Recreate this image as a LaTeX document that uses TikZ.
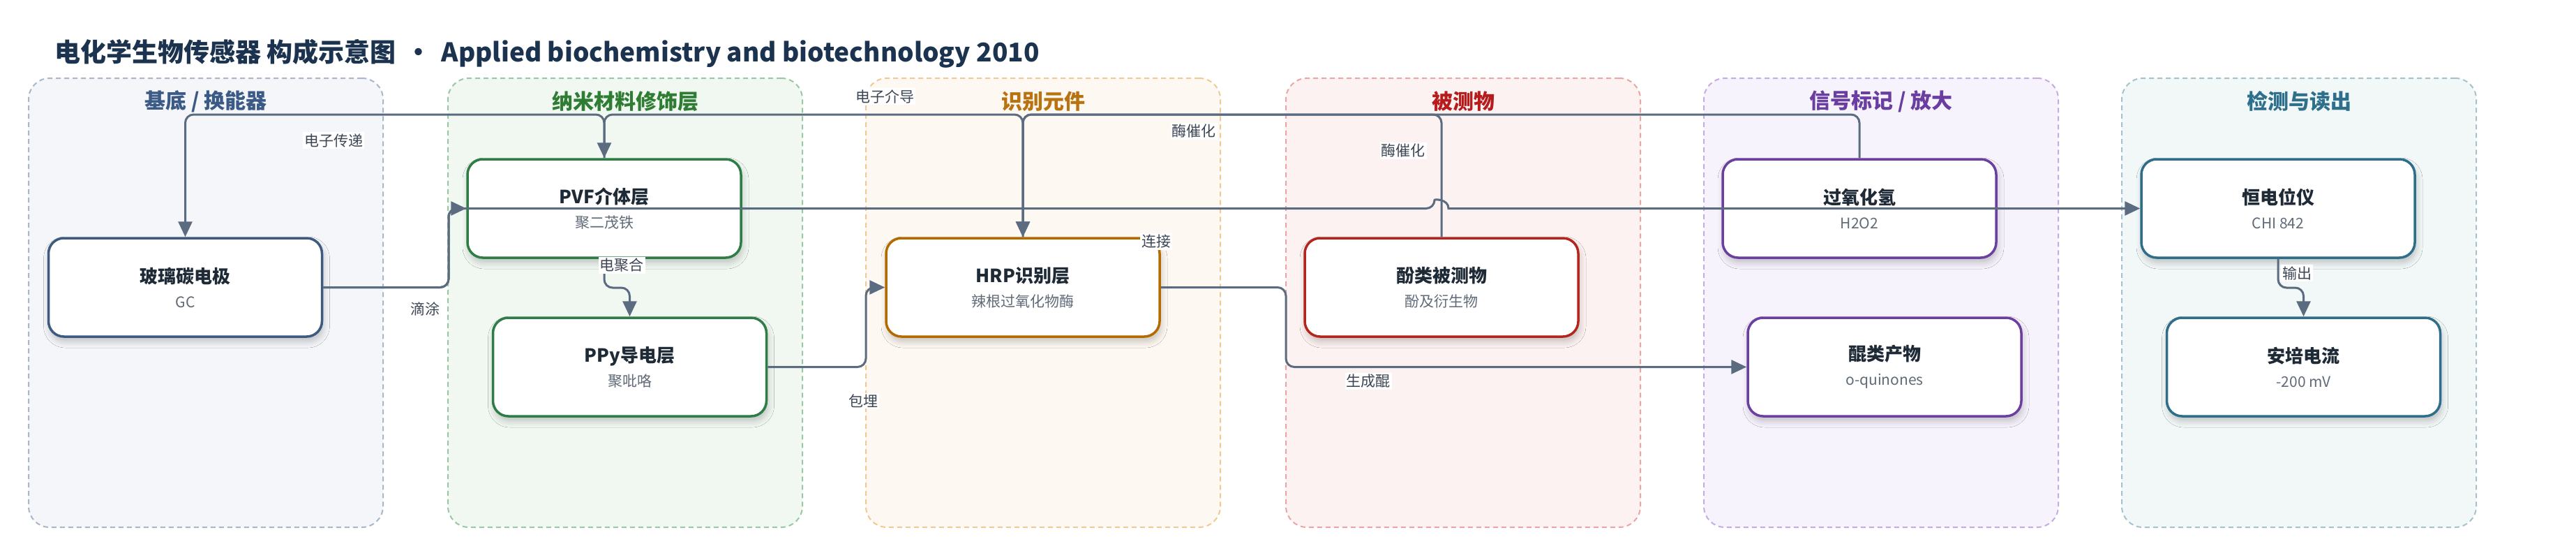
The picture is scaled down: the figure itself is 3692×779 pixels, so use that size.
\documentclass[tikz,border=0pt]{standalone}
\usepackage{fontspec}
\setmainfont{Noto Sans CJK SC}
\usetikzlibrary{arrows.meta,shadows.blur}
\definecolor{titlec}{HTML}{1C3350}
\definecolor{edgec}{HTML}{5B6B80}
\definecolor{labelc}{HTML}{3D4654}
\definecolor{ntext}{HTML}{1F2A37}
\definecolor{nsub}{HTML}{606B78}
% groups
\definecolor{g1f}{HTML}{F4F6FA}\definecolor{g1b}{HTML}{AAB7CA}\definecolor{g1t}{HTML}{3B5A85}
\definecolor{g2f}{HTML}{F1F8F2}\definecolor{g2b}{HTML}{98C9A4}\definecolor{g2t}{HTML}{2E7D32}
\definecolor{g3f}{HTML}{FDF8F1}\definecolor{g3b}{HTML}{F0CA92}\definecolor{g3t}{HTML}{B8720F}
\definecolor{g4f}{HTML}{FDF2F2}\definecolor{g4b}{HTML}{EBA5A5}\definecolor{g4t}{HTML}{B71C1C}
\definecolor{g5f}{HTML}{F7F3FC}\definecolor{g5b}{HTML}{C6ACE0}\definecolor{g5t}{HTML}{6A3EA1}
\definecolor{g6f}{HTML}{F2F7F8}\definecolor{g6b}{HTML}{A6C3CD}\definecolor{g6t}{HTML}{2E6F8C}
% node borders
\definecolor{nb1}{HTML}{3D5A80}
\definecolor{nb2}{HTML}{2E7D46}
\definecolor{nb3}{HTML}{B36B00}
\definecolor{nb4}{HTML}{B3261E}
\definecolor{nb5}{HTML}{6B3FA0}
\definecolor{nb6}{HTML}{2E6E8A}
\tikzset{
  grp/.style={rectangle, rounded corners=30pt, dashed, dash pattern=on 7pt off 5pt, line width=2pt,
              minimum width=508pt, minimum height=643pt, inner sep=0pt},
  gtitle/.style={font=\fontsize{30}{30}\selectfont\bfseries, inner sep=0pt},
  box/.style={rectangle, rounded corners=22pt, line width=3.5pt, fill=white,
              minimum width=392pt, minimum height=141pt, align=center, inner sep=0pt,
              font=\fontsize{21}{35}\selectfont,
              blur shadow={shadow xshift=2pt, shadow yshift=-7pt, shadow blur radius=9pt, shadow opacity=22}},
  edge/.style={draw=edgec, line width=3pt, rounded corners=12pt, -{Triangle[length=22pt,width=20pt]}},
  elabel/.style={fill=white, inner sep=2pt, text=labelc, font=\fontsize{21}{21}\selectfont},
}
\newcommand{\nt}[2]{{\fontsize{26}{35}\selectfont\bfseries\color{ntext}#1}\\{\color{nsub}#2}}
\begin{document}
\begin{tikzpicture}[x=1pt,y=-1pt]
\useasboundingbox (0,0) rectangle (3692,779);
\fill[white] (0,0) rectangle (3692,779);

% title
\node[anchor=west, inner sep=0pt, text=titlec, font=\fontsize{37}{37}\selectfont\bfseries] (title) at (78,77)
  {电化学生物传感器 构成示意图\hspace{0.38em}•\hspace{0.38em}Applied biochemistry and biotechnology 2010};

% groups
\node[grp, draw=g1b, fill=g1f] (grp1) at (295,433.5) {};
\node[grp, draw=g2b, fill=g2f] (grp2) at (896,433.5) {};
\node[grp, draw=g3b, fill=g3f] (grp3) at (1495,433.5) {};
\node[grp, draw=g4b, fill=g4f] (grp4) at (2097,433.5) {};
\node[grp, draw=g5b, fill=g5f] (grp5) at (2696,433.5) {};
\node[grp, draw=g6b, fill=g6f] (grp6) at (3295,433.5) {};
\node[gtitle, text=g1t] (grp1t) at (295,145) {基底 / 换能器};
\node[gtitle, text=g2t] (grp2t) at (896,145) {纳米材料修饰层};
\node[gtitle, text=g3t] (grp3t) at (1495,145) {识别元件};
\node[gtitle, text=g4t] (grp4t) at (2097,145) {被测物};
\node[gtitle, text=g5t] (grp5t) at (2696,145) {信号标记 / 放大};
\node[gtitle, text=g6t] (grp6t) at (3295,145) {检测与读出};

% nodes
\node[box, draw=nb1] (gc)   at (265.5,411.5)  {\nt{玻璃碳电极}{GC}};
\node[box, draw=nb2] (pvf)  at (866,298.5)    {\nt{PVF介体层}{聚二茂铁}};
\node[box, draw=nb2] (ppy)  at (902.5,525.5)  {\nt{PPy导电层}{聚吡咯}};
\node[box, draw=nb3] (hrp)  at (1466,411.5)   {\nt{HRP识别层}{辣根过氧化物酶}};
\node[box, draw=nb4] (phen) at (2066,411.5)   {\nt{酚类被测物}{酚及衍生物}};
\node[box, draw=nb5] (h2o2) at (2665,298.5)   {\nt{过氧化氢}{H2O2}};
\node[box, draw=nb5] (quin) at (2701,525.5)   {\nt{醌类产物}{o-quinones}};
\node[box, draw=nb6] (pot)  at (3265,298.5)   {\nt{恒电位仪}{CHI 842}};
\node[box, draw=nb6] (amp)  at (3301.5,525.5) {\nt{安培电流}{-200 mV}};

% routing helpers
\coordinate (top) at (0,164);
\coordinate (mid) at (0,412);
\coordinate (c1) at (643,0);
\coordinate (c2) at (1241,0);
\coordinate (c3) at (1843,0);

% edges
\draw[edge] (pvf.north) -- (pvf.north |- top) -- (gc.north |- top) -- (gc.north);
\draw[edge] (gc.east) -- (gc.east -| c1) -- (pvf.west -| c1) -- (pvf.west);
\draw[edge] (pvf.south) -- (pvf.south |- mid) -- (ppy.north |- mid) -- (ppy.north);
\draw[edge] (ppy.east) -- (ppy.east -| c2) -- (hrp.west -| c2) -- (hrp.west);
\draw[edge] (hrp.north) -- (hrp.north |- top) -- (pvf.north |- top) -- (pvf.north);
\draw[edge] (phen.north) -- (phen.north |- top) -- (hrp.north |- top) -- (hrp.north);
\draw[edge] (h2o2.north) -- (h2o2.north |- top) -- (hrp.north |- top) -- (hrp.north);
\draw[edge] (hrp.east) -- (hrp.east -| c3) -- (quin.west -| c3) -- (quin.west);
\draw[edge] (gc.east) -- (gc.east -| c1) -- (pvf.west -| c1) -- (2056,298.5)
  [sharp corners] .. controls (2056,285) and (2076,285) .. (2076,298.5) -- (pot.west);
\draw[edge] (pot.south) -- (pot.south |- mid) -- (amp.north |- mid) -- (amp.north);

% edge labels
\node[elabel] (l1) at (478,201) {电子传递};
\node[elabel] (l2) at (609,442) {滴涂};
\node[elabel] (l3) at (891,380) {电聚合};
\node[elabel] (l4) at (1268,138) {电子介导};
\node[elabel] (l5) at (1237,574) {包埋};
\node[elabel] (l6) at (1657,346) {连接};
\node[elabel] (l7) at (1711,188) {酶催化};
\node[elabel] (l8) at (2011,216) {酶催化};
\node[elabel] (l9) at (1961,546) {生成醌};
\node[elabel] (l10) at (3292,391) {输出};
\end{tikzpicture}
\end{document}
